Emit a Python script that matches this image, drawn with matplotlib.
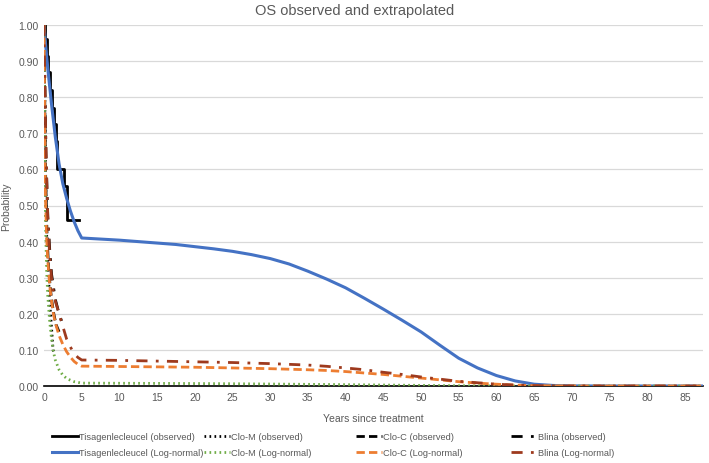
import matplotlib
matplotlib.use("Agg")
import matplotlib.pyplot as plt
import numpy as np

plt.rcParams['font.family'] = ['Liberation Sans', 'DejaVu Sans']

# ---------------- data ----------------
# Tisagenlecleucel observed (KM steps)
tisa_obs_t = [0, 0.15, 0.35, 0.55, 0.8, 1.05, 1.3, 1.55, 1.75, 2.7, 3.1, 4.7]
tisa_obs_s = [1.0, 0.96, 0.915, 0.87, 0.82, 0.77, 0.725, 0.68, 0.60, 0.553, 0.46, 0.46]

# Clo-M observed
clom_obs_t = [0, 0.1, 0.2, 0.3, 0.45, 0.6, 0.8, 1.0, 1.2, 1.4]
clom_obs_s = [1.0, 0.80, 0.60, 0.45, 0.36, 0.30, 0.22, 0.16, 0.10, 0.09]

# Clo-C observed
cloc_obs_t = [0, 0.2, 0.4, 0.6, 0.8, 1.0, 1.3, 1.6, 2.0]
cloc_obs_s = [1.0, 0.60, 0.42, 0.33, 0.28, 0.24, 0.20, 0.17, 0.15]

# Blina observed
blina_obs_t = [0, 0.25, 0.5, 0.75, 1.0, 1.5, 2.0, 2.5]
blina_obs_s = [1.0, 0.65, 0.47, 0.38, 0.31, 0.24, 0.20, 0.17]

# Log-normal extrapolations
years = [0, 0.1, 0.2, 0.35, 0.5, 0.75, 1.0, 1.25, 1.5, 2.0, 2.5, 3.0, 3.5, 4.0, 4.5, 5.0,
         7.5, 10, 12.5, 15, 17.5, 20, 22.5, 25, 27.5, 30, 32.5, 35, 37.5, 40, 42.5,
         45, 47.5, 50, 52.5, 55, 57.5, 60, 62.5, 65, 67.5, 70, 75, 80, 87.4]

tisa_ln = [1.0, 0.975, 0.95, 0.915, 0.88, 0.83, 0.78, 0.735, 0.69, 0.615, 0.56, 0.52, 0.485,
           0.455, 0.43, 0.41,
           0.407, 0.404, 0.400, 0.396, 0.392, 0.386, 0.380, 0.373, 0.364, 0.353, 0.338,
           0.318, 0.296, 0.272, 0.243, 0.213, 0.182, 0.150, 0.113, 0.077, 0.050, 0.029,
           0.014, 0.005, 0.0015, 0.0003, 0.0, 0.0, 0.0]

clom_ln = [1.0, 0.65, 0.45, 0.32, 0.25, 0.18, 0.13, 0.095, 0.072, 0.045, 0.030, 0.021, 0.016,
           0.012, 0.010, 0.008,
           0.0078, 0.0076, 0.0074, 0.0072, 0.0070, 0.0068, 0.0065, 0.0062, 0.0058, 0.0054,
           0.0050, 0.0046, 0.0042, 0.0037, 0.0032, 0.0027, 0.0022, 0.0017, 0.0012, 0.0008,
           0.0005, 0.0003, 0.0001, 0.0, 0.0, 0.0, 0.0, 0.0, 0.0]

cloc_ln = [1.0, 0.70, 0.52, 0.41, 0.35, 0.28, 0.235, 0.20, 0.175, 0.14, 0.115, 0.095, 0.080,
           0.068, 0.060, 0.055,
           0.0545, 0.054, 0.0535, 0.053, 0.0525, 0.052, 0.051, 0.050, 0.049, 0.048, 0.0465,
           0.045, 0.043, 0.040, 0.036, 0.032, 0.027, 0.022, 0.017, 0.012, 0.008, 0.005,
           0.0025, 0.001, 0.0004, 0.0001, 0.0, 0.0, 0.0]

blina_ln = [1.0, 0.85, 0.72, 0.58, 0.47, 0.36, 0.30, 0.26, 0.235, 0.20, 0.165, 0.13, 0.108,
            0.090, 0.079, 0.072,
            0.0715, 0.071, 0.070, 0.069, 0.068, 0.067, 0.066, 0.065, 0.0635, 0.062, 0.060,
            0.058, 0.0545, 0.050, 0.045, 0.038, 0.032, 0.025, 0.019, 0.013, 0.009, 0.005,
            0.0025, 0.001, 0.0004, 0.0001, 0.0, 0.0, 0.0]

x_ticks = list(range(0, 90, 5))
y_ticks = [i / 10 for i in range(11)]

# ---------------- styling ----------------
BLUE = '#4472C4'
GREEN = '#70AD47'
ORANGE = '#ED7D31'
RED = '#9E3A1E'
TXT = '#595959'

fig = plt.figure(figsize=(7.09, 4.64), dpi=100)
ax = fig.add_axes([44 / 709, 1 - 387 / 464, (703 - 44) / 709, (387 - 26) / 464])

lw = 2.0
h1 = ax.plot(tisa_obs_t, tisa_obs_s, color='black', lw=lw, drawstyle='steps-post',
             label='Tisagenlecleucel (observed)', zorder=3)[0]
h2 = ax.plot(clom_obs_t, clom_obs_s, color='black', lw=lw, linestyle=(0, (0.6, 1.2)),
             label='Clo-M (observed)', zorder=3)[0]
h3 = ax.plot(cloc_obs_t, cloc_obs_s, color='black', lw=lw, linestyle=(0, (3, 1.5)),
             label='Clo-C (observed)', zorder=3)[0]
h4 = ax.plot(blina_obs_t, blina_obs_s, color='black', lw=lw, linestyle=(0, (4, 3, 1, 3)),
             label='Blina (observed)', zorder=3)[0]

h5 = ax.plot(years, tisa_ln, color=BLUE, lw=2.2, label='Tisagenlecleucel (Log-normal)', zorder=4)[0]
h6 = ax.plot(years, clom_ln, color=GREEN, lw=lw, linestyle=(0, (0.6, 1.2)),
             label='Clo-M (Log-normal)', zorder=4)[0]
h7 = ax.plot(years, cloc_ln, color=ORANGE, lw=lw, linestyle=(0, (3, 1.5)),
             label='Clo-C (Log-normal)', zorder=4)[0]
h8 = ax.plot(years, blina_ln, color=RED, lw=lw, linestyle=(0, (4, 3, 1, 3)),
             label='Blina (Log-normal)', zorder=4)[0]

ax.set_xlim(0, 87.4)
ax.set_ylim(0, 1.0)
ax.set_xticks(x_ticks)
ax.set_yticks(y_ticks)
ax.set_yticklabels([f'{v:.2f}' for v in y_ticks])
ax.tick_params(length=0, labelsize=7.5, colors=TXT, pad=4)
ax.grid(axis='y', color='#D9D9D9', lw=0.9)
ax.set_axisbelow(True)
for s in ['top', 'right', 'left']:
    ax.spines[s].set_visible(False)
ax.spines['bottom'].set_color('black')
ax.spines['bottom'].set_linewidth(1.2)
ax.spines['bottom'].set_zorder(2)

ax.set_xlabel('Years since treatment', fontsize=7.5, color=TXT, labelpad=8)
ax.set_ylabel('Probability', fontsize=7.5, color=TXT, labelpad=5)
fig.text(0.5, 1 - 11 / 464, 'OS observed and extrapolated', ha='center', va='center',
         fontsize=10.5, color=TXT)

# legend: 4 columns, observed on top row, log-normal on bottom row
cols = [(h1, h5), (h2, h6), (h3, h7), (h4, h8)]
col_x = [52, 204, 356, 511]
for (ha, hb), x in zip(cols, col_x):
    fig.legend(handles=[ha, hb], loc='upper left',
               bbox_to_anchor=(x / 709, 1 - 433 / 464), frameon=False,
               fontsize=6.7, handlelength=2.8, handletextpad=0.1,
               labelspacing=0.8, borderaxespad=0, borderpad=0,
               labelcolor=TXT)

fig.savefig('out.png', dpi=100)
